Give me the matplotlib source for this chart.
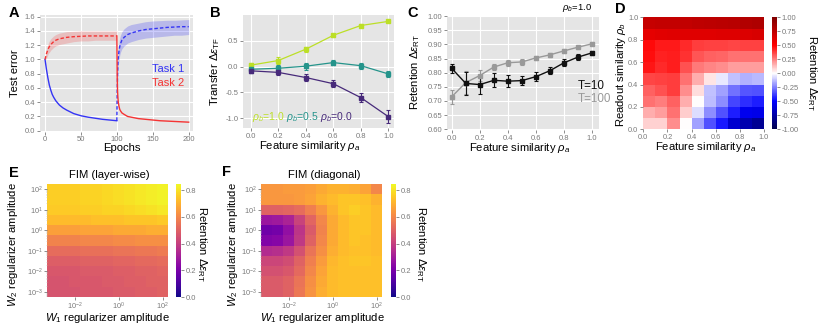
"""Six-panel continual-learning figure (matplotlib, Agg backend)."""

import matplotlib

matplotlib.use("Agg")

import matplotlib.pyplot as plt
import numpy as np

plt.rcParams["font.family"] = ["Liberation Sans", "DejaVu Sans"]
plt.rcParams["mathtext.fontset"] = "custom"
plt.rcParams["mathtext.rm"] = "Liberation Sans"
plt.rcParams["mathtext.it"] = "Liberation Sans:italic"
plt.rcParams["mathtext.bf"] = "Liberation Sans:bold"

# ---- panel A: test error during sequential training ----
ep_first = [0, 1, 2, 3, 4, 5, 6, 8, 10, 12, 15, 20, 25, 30, 40, 50, 60, 70, 80, 90, 100]
task1_first = [1.00, 0.93, 0.86, 0.80, 0.74, 0.69, 0.64, 0.57, 0.51, 0.47, 0.42, 0.36,
               0.32, 0.29, 0.24, 0.21, 0.19, 0.175, 0.16, 0.15, 0.14]
task2_first = [1.00, 1.04, 1.08, 1.11, 1.14, 1.16, 1.18, 1.21, 1.23, 1.25, 1.27, 1.29,
               1.30, 1.31, 1.32, 1.325, 1.33, 1.33, 1.33, 1.33, 1.33]
task2_first_hi = [1.00, 1.08, 1.14, 1.18, 1.21, 1.24, 1.26, 1.29, 1.31, 1.33, 1.35, 1.37,
                  1.38, 1.39, 1.395, 1.40, 1.40, 1.40, 1.40, 1.40, 1.40]
task2_first_lo = [1.00, 1.00, 1.02, 1.04, 1.07, 1.09, 1.10, 1.13, 1.15, 1.17, 1.19, 1.21,
                  1.22, 1.23, 1.25, 1.26, 1.26, 1.27, 1.27, 1.27, 1.27]

ep_second = [100, 100.5, 101, 101.5, 102, 103, 104, 105, 107, 110, 115, 120, 130, 140,
             150, 160, 170, 180, 190, 200]
task1_second = [0.14, 0.55, 0.80, 0.95, 1.03, 1.12, 1.18, 1.22, 1.27, 1.31, 1.35, 1.37,
                1.40, 1.42, 1.43, 1.44, 1.45, 1.455, 1.46, 1.46]
task1_second_hi = [0.14, 0.62, 0.90, 1.06, 1.15, 1.24, 1.30, 1.34, 1.39, 1.43, 1.47, 1.49,
                   1.51, 1.53, 1.54, 1.545, 1.55, 1.55, 1.555, 1.56]
task1_second_lo = [0.14, 0.48, 0.70, 0.84, 0.91, 1.00, 1.06, 1.10, 1.15, 1.19, 1.23, 1.25,
                   1.28, 1.30, 1.31, 1.32, 1.33, 1.34, 1.34, 1.35]
task2_second = [1.33, 0.75, 0.55, 0.46, 0.40, 0.34, 0.30, 0.28, 0.25, 0.23, 0.20, 0.19,
                0.17, 0.16, 0.15, 0.14, 0.135, 0.13, 0.125, 0.12]

# ---- panel B: transfer vs feature similarity ----
rho_a_b = [0.0, 0.2, 0.4, 0.6, 0.8, 1.0]
transfer = {
    "1.0": [0.03, 0.12, 0.34, 0.61, 0.80, 0.88],
    "0.5": [-0.05, -0.03, 0.01, 0.08, 0.02, -0.14],
    "0.0": [-0.08, -0.11, -0.21, -0.33, -0.60, -0.97],
}
transfer_err = {
    "1.0": [0.05, 0.06, 0.05, 0.03, 0.02, 0.01],
    "0.5": [0.07, 0.06, 0.07, 0.05, 0.06, 0.06],
    "0.0": [0.04, 0.05, 0.06, 0.07, 0.08, 0.12],
}
transfer_colors = {"1.0": "#bcdf27", "0.5": "#25948b", "0.0": "#472a7a"}

# ---- panel C: retention vs feature similarity ----
rho_a_c = [0.0, 0.1, 0.2, 0.3, 0.4, 0.5, 0.6, 0.7, 0.8, 0.9, 1.0]
ret_t10 = [0.815, 0.762, 0.758, 0.773, 0.770, 0.772, 0.786, 0.807, 0.835, 0.855, 0.870]
ret_t10_err = [0.015, 0.040, 0.035, 0.025, 0.022, 0.015, 0.015, 0.012, 0.012, 0.010, 0.007]
ret_t100 = [0.715, 0.765, 0.790, 0.820, 0.835, 0.838, 0.852, 0.863, 0.877, 0.890, 0.902]
ret_t100_err = [0.025, 0.040, 0.018, 0.012, 0.010, 0.010, 0.008, 0.008, 0.007, 0.006, 0.005]

# ---- panel D: retention map, rows rho_b = 0.0 .. 0.9, cols rho_a = 0.0 .. 0.9 ----
retention_map = [
    [0.09, 0.09, 0.22, 0.00, -0.18, -0.34, -0.45, -0.63, -0.72, -0.80],
    [0.16, 0.19, 0.28, 0.10, -0.07, -0.22, -0.34, -0.44, -0.54, -0.56],
    [0.28, 0.25, 0.31, 0.16, 0.00, -0.13, -0.22, -0.36, -0.41, -0.44],
    [0.31, 0.34, 0.38, 0.22, 0.07, -0.12, -0.18, -0.28, -0.33, -0.34],
    [0.36, 0.37, 0.38, 0.28, 0.16, 0.05, -0.04, -0.12, -0.15, -0.14],
    [0.46, 0.42, 0.44, 0.34, 0.26, 0.24, 0.22, 0.19, 0.19, 0.19],
    [0.47, 0.43, 0.44, 0.40, 0.33, 0.31, 0.30, 0.28, 0.28, 0.28],
    [0.48, 0.45, 0.45, 0.42, 0.38, 0.37, 0.37, 0.36, 0.37, 0.37],
    [0.60, 0.61, 0.62, 0.62, 0.62, 0.62, 0.63, 0.63, 0.64, 0.65],
    [0.72, 0.73, 0.73, 0.74, 0.75, 0.76, 0.77, 0.78, 0.80, 0.82],
]

# ---- panels E/F: retention vs regularizer amplitudes (log10 grid) ----
reg_log10 = [-3.0, -2.5, -2.0, -1.5, -1.0, -0.5, 0.0, 0.5, 1.0, 1.5, 2.0]
fim_layer = [  # rows W2 = 1e-3 .. 1e2, cols W1 = 1e-3 .. 1e2
    [0.46, 0.46, 0.46, 0.47, 0.47, 0.47, 0.48, 0.48, 0.49, 0.49, 0.50],
    [0.46, 0.46, 0.47, 0.47, 0.47, 0.48, 0.48, 0.49, 0.49, 0.50, 0.50],
    [0.47, 0.47, 0.47, 0.48, 0.48, 0.48, 0.49, 0.49, 0.50, 0.50, 0.51],
    [0.49, 0.49, 0.49, 0.50, 0.50, 0.50, 0.51, 0.51, 0.52, 0.52, 0.53],
    [0.53, 0.53, 0.53, 0.54, 0.54, 0.54, 0.55, 0.55, 0.56, 0.56, 0.57],
    [0.59, 0.59, 0.59, 0.60, 0.60, 0.60, 0.61, 0.61, 0.62, 0.62, 0.62],
    [0.66, 0.66, 0.66, 0.67, 0.67, 0.67, 0.68, 0.68, 0.68, 0.69, 0.69],
    [0.72, 0.72, 0.72, 0.72, 0.73, 0.73, 0.73, 0.74, 0.74, 0.74, 0.75],
    [0.75, 0.75, 0.75, 0.76, 0.76, 0.77, 0.77, 0.78, 0.79, 0.80, 0.81],
    [0.76, 0.76, 0.76, 0.77, 0.77, 0.78, 0.79, 0.80, 0.81, 0.82, 0.83],
    [0.76, 0.76, 0.76, 0.77, 0.77, 0.78, 0.79, 0.80, 0.81, 0.82, 0.83],
]
fim_diag = [
    [0.48, 0.48, 0.50, 0.56, 0.63, 0.69, 0.72, 0.73, 0.73, 0.73, 0.73],
    [0.48, 0.48, 0.50, 0.55, 0.62, 0.68, 0.72, 0.73, 0.73, 0.73, 0.73],
    [0.45, 0.45, 0.47, 0.52, 0.60, 0.67, 0.72, 0.73, 0.73, 0.73, 0.73],
    [0.42, 0.42, 0.44, 0.50, 0.58, 0.65, 0.71, 0.73, 0.74, 0.74, 0.73],
    [0.34, 0.35, 0.38, 0.45, 0.55, 0.62, 0.69, 0.72, 0.73, 0.73, 0.72],
    [0.22, 0.23, 0.28, 0.38, 0.50, 0.60, 0.68, 0.72, 0.74, 0.73, 0.72],
    [0.18, 0.19, 0.26, 0.37, 0.48, 0.59, 0.68, 0.72, 0.74, 0.74, 0.72],
    [0.28, 0.29, 0.32, 0.41, 0.51, 0.60, 0.68, 0.72, 0.74, 0.74, 0.72],
    [0.50, 0.50, 0.51, 0.53, 0.58, 0.64, 0.70, 0.74, 0.76, 0.74, 0.72],
    [0.64, 0.64, 0.64, 0.65, 0.67, 0.70, 0.72, 0.74, 0.74, 0.73, 0.70],
    [0.64, 0.64, 0.65, 0.65, 0.66, 0.68, 0.70, 0.70, 0.69, 0.67, 0.60],
]

BG = "#e5e5e5"
TICK = "#7a7a7a"
BLUE = "#3434f5"
RED = "#f53434"
W, H = 831, 325

fig = plt.figure(figsize=(W / 100, H / 100), dpi=100)


def box(left, top, right, bottom):
    return [left / W, 1 - bottom / H, (right - left) / W, (bottom - top) / H]


def ftext(x, y, s, **kw):
    fig.text(x / W, 1 - y / H, s, **kw)


def gg(ax):
    ax.set_facecolor(BG)
    for sp in ax.spines.values():
        sp.set_visible(False)
    ax.grid(True, color="white", lw=0.8)
    ax.set_axisbelow(True)
    ax.tick_params(colors=TICK, labelsize=5.5, length=2, width=0.6, pad=1.5)


def heat_ticks(ax):
    for sp in ax.spines.values():
        sp.set_visible(False)
    ax.tick_params(colors=TICK, labelsize=5.3, length=2, width=0.6, pad=0.8)
    ax.tick_params(which="minor", colors="#bbbbbb", length=1, width=0.4)


def cbar(mesh, rect, ticks, fmt):
    cax = fig.add_axes(rect)
    cb = fig.colorbar(mesh, cax=cax, ticks=ticks, format=fmt)
    cb.outline.set_visible(False)
    cax.tick_params(colors=TICK, labelsize=5.5, length=2, width=0.6, pad=1.5)
    return cb


LAB = 8.1
RET = r"Retention $\Delta\varepsilon_{\rm RT}$"

# ---------------- A ----------------
axA = fig.add_axes(box(40, 15, 193, 131.5))
gg(axA)
axA.fill_between(ep_first, task2_first_lo, task2_first_hi, color=RED, alpha=0.22, lw=0)
axA.fill_between(ep_second, task1_second_lo, task1_second_hi, color=BLUE, alpha=0.25, lw=0)
axA.plot(ep_first, task1_first, color=BLUE, lw=1.0)
axA.plot(ep_first, task2_first, color=RED, lw=1.0, ls=(0, (2.5, 1.5)))
axA.plot(ep_second, task1_second, color=BLUE, lw=1.0, ls=(0, (2.5, 1.5)))
axA.plot(ep_second, task2_second, color=RED, lw=1.0)
axA.set_xlim(-7, 206)
axA.set_ylim(-0.011, 1.624)
axA.set_xticks([0, 50, 100, 150, 200])
axA.set_yticks(np.arange(0, 1.61, 0.2))
axA.set_yticklabels([f"{v:.1f}" for v in np.arange(0, 1.61, 0.2)])
axA.text(194, 0.86, "Task 1", color=BLUE, ha="right", va="center", fontsize=8)
axA.text(194, 0.675, "Task 2", color=RED, ha="right", va="center", fontsize=8)
ftext(15, 73, "Test error", rotation=90, ha="center", va="center", fontsize=LAB)
ftext(122, 148, "Epochs", ha="center", va="center", fontsize=LAB)

# ---------------- B ----------------
axB = fig.add_axes(box(243.3, 15, 394, 128))
gg(axB)
for key in ["1.0", "0.5", "0.0"]:
    axB.errorbar(rho_a_b, transfer[key], yerr=transfer_err[key], color=transfer_colors[key],
                 marker="s", ms=2.6, lw=0.9, elinewidth=0.8, capsize=1.5, capthick=0.8)
axB.set_xlim(-0.054, 1.041)
axB.set_ylim(-1.19, 1.004)
axB.set_xticks(np.arange(0, 1.01, 0.2))
axB.set_xticklabels([f"{v:.1f}" for v in np.arange(0, 1.01, 0.2)])
axB.set_yticks([-1.0, -0.5, 0.0, 0.5])
axB.set_yticklabels(["-1.0", "-0.5", "0.0", "0.5"])
for key, xpos in zip(["1.0", "0.5", "0.0"], [0.01, 0.257, 0.504]):
    axB.text(xpos, -0.975, r"$\rho_b$=" + key, color=transfer_colors[key],
             ha="left", va="center", fontsize=7.5)
ftext(215, 72, r"Transfer $\Delta\varepsilon_{\rm TF}$", rotation=90,
      ha="center", va="center", fontsize=LAB)
ftext(310, 146, r"Feature similarity $\rho_a$", ha="center", va="center", fontsize=LAB)

# ---------------- C ----------------
axC = fig.add_axes(box(447, 15.5, 599, 130))
gg(axC)
axC.errorbar(rho_a_c, ret_t100, yerr=ret_t100_err, color="#999999", marker="s", ms=2.6,
             lw=1.0, elinewidth=0.8, capsize=1.5, capthick=0.8)
axC.errorbar(rho_a_c, ret_t10, yerr=ret_t10_err, color="#111111", marker="s", ms=2.6,
             lw=1.0, elinewidth=0.8, capsize=1.5, capthick=0.8)
axC.set_xlim(-0.034, 1.05)
axC.set_ylim(0.5975, 1.002)
axC.set_xticks(np.arange(0, 1.01, 0.2))
axC.set_xticklabels([f"{v:.1f}" for v in np.arange(0, 1.01, 0.2)])
axC.set_yticks(np.arange(0.6, 1.001, 0.05))
axC.set_yticklabels([f"{v:.2f}" for v in np.arange(0.6, 1.001, 0.05)])
axC.text(0.90, 0.753, "T=10", color="#111111", ha="left", va="center", fontsize=8.4)
axC.text(0.90, 0.707, "T=100", color="#999999", ha="left", va="center", fontsize=8.4)
ftext(577, 8, r"$\rho_b$=1.0", ha="center", va="center", fontsize=6.8)
ftext(415, 72, RET, rotation=90, ha="center", va="center", fontsize=LAB)
ftext(520, 148, r"Feature similarity $\rho_a$", ha="center", va="center", fontsize=LAB)

# ---------------- D ----------------
axD = fig.add_axes(box(643.3, 17.3, 764, 129.3))
edges = np.linspace(0, 1, len(retention_map) + 1)
meshD = axD.pcolormesh(edges, edges, np.array(retention_map), cmap="seismic", vmin=-1, vmax=1)
heat_ticks(axD)
axD.tick_params(pad=1.5)
axD.set_xticks(np.arange(0, 1.01, 0.2))
axD.set_xticklabels([f"{v:.1f}" for v in np.arange(0, 1.01, 0.2)])
axD.set_yticks(np.arange(0, 1.01, 0.2))
axD.set_yticklabels([f"{v:.1f}" for v in np.arange(0, 1.01, 0.2)])
cbar(meshD, box(772.3, 17.3, 776.7, 129.3), np.arange(-1, 1.01, 0.25), "%.2f")
ftext(621, 74, r"Readout similarity $\rho_b$", rotation=90, ha="center", va="center",
      fontsize=LAB)
ftext(706, 147, r"Feature similarity $\rho_a$", ha="center", va="center", fontsize=LAB)
ftext(812, 73, RET, rotation=270, ha="center", va="center", fontsize=LAB)

# ---------------- E / F ----------------
reg_edges = 10.0 ** (np.array(reg_log10 + [reg_log10[-1] + 0.5]) - 0.25)
for data, rect, crect, title, cx, lab_x, clab_x in [
    (fim_layer, box(47, 184, 168, 297), box(176, 184, 181, 297), "FIM (layer-wise)", 107, 13, 202),
    (fim_diag, box(261, 184, 382, 297), box(391, 184, 396, 297), "FIM (diagonal)", 322, 233, 421),
]:
    ax = fig.add_axes(rect)
    mesh = ax.pcolormesh(reg_edges, reg_edges, np.array(data), cmap="plasma", vmin=0, vmax=0.845)
    ax.set_xscale("log")
    ax.set_yscale("log")
    ax.set_xlim(reg_edges[0], reg_edges[-1])
    ax.set_ylim(reg_edges[0], reg_edges[-1])
    heat_ticks(ax)
    ax.set_xticks([1e-2, 1e0, 1e2])
    ax.set_yticks([1e-3, 1e-2, 1e-1, 1e0, 1e1, 1e2])
    cbar(mesh, crect, [0, 0.2, 0.4, 0.6, 0.8], "%.1f")
    ftext(cx + 2, 175, title, ha="center", va="center", fontsize=LAB)
    ftext(lab_x, 245, r"$W_2$ regularizer amplitude", rotation=90, ha="center",
          va="center", fontsize=LAB)
    ftext(cx, 318, r"$W_1$ regularizer amplitude", ha="center", va="center", fontsize=LAB)
    ftext(clab_x, 244, RET, rotation=270, ha="center", va="center", fontsize=LAB)

# panel letters
for letter, x, y in [("A", 14, 13), ("B", 215, 13), ("C", 413, 13), ("D", 620, 9),
                     ("E", 14, 173), ("F", 227, 172)]:
    ftext(x, y, letter, ha="center", va="center", fontsize=10.5, fontweight="bold")

fig.savefig("out.png", dpi=100)
plt.close(fig)
